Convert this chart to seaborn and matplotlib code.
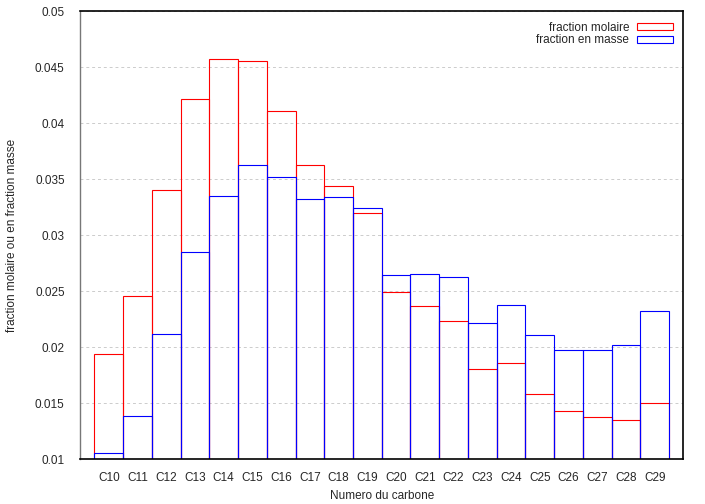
import matplotlib
matplotlib.use("Agg")
import matplotlib.pyplot as plt
import seaborn as sns
import pandas as pd

# carbon numbers and fractions
carbons = ['C10', 'C11', 'C12', 'C13', 'C14', 'C15', 'C16', 'C17', 'C18', 'C19',
           'C20', 'C21', 'C22', 'C23', 'C24', 'C25', 'C26', 'C27', 'C28', 'C29']
frac_molaire = [0.0194, 0.0246, 0.0340, 0.0422, 0.0457, 0.0456, 0.0411, 0.0363, 0.0344, 0.0320,
                0.0249, 0.0237, 0.02235, 0.0181, 0.0186, 0.0158, 0.0143, 0.01375, 0.0135, 0.0150]
frac_masse = [0.0106, 0.0139, 0.0212, 0.0285, 0.0335, 0.0363, 0.0352, 0.0332, 0.0334, 0.0324,
              0.02645, 0.0265, 0.0263, 0.0222, 0.02375, 0.0211, 0.0198, 0.0198, 0.0202, 0.02325]

df = pd.DataFrame({'carbone': carbons, 'molaire': frac_molaire, 'masse': frac_masse})

sns.set_style("white")
plt.rcParams['font.family'] = ['Liberation Sans', 'DejaVu Sans']
fs = 8.5

fig = plt.figure(figsize=(7.05, 5.04), dpi=100)
ax = fig.add_axes([0.1135, 0.0887, 0.856, 0.889])

sns.barplot(data=df, x='carbone', y='molaire', fill=False, color='#ff0000', width=1.0,
            linewidth=0.8, label='fraction molaire', ax=ax)
sns.barplot(data=df, x='carbone', y='masse', fill=False, color='#0000ff', width=1.0,
            linewidth=0.8, label='fraction en masse', ax=ax)

ax.set_xlim(-1, 20)
ax.set_ylim(0.01, 0.05)
ax.set_yticks([0.01, 0.015, 0.02, 0.025, 0.03, 0.035, 0.04, 0.045, 0.05])
ax.set_yticklabels(['0.01', '0.015', '0.02', '0.025', '0.03', '0.035', '0.04', '0.045', '0.05'])
ax.yaxis.grid(True, linestyle=(0, (3, 3)), color='#cccccc', linewidth=0.7)
ax.set_axisbelow(True)

ax.tick_params(axis='x', direction='out', length=3.5, width=0.8, color='#555555',
               labelsize=fs, pad=6)
ax.tick_params(axis='y', direction='out', length=4, width=0.8, color='#555555',
               labelsize=fs, pad=7)
ax.set_xlabel('Numero du carbone', fontsize=fs, labelpad=4)
ax.set_ylabel('fraction molaire ou en fraction masse', fontsize=fs, labelpad=12)

for side in ['top', 'right', 'bottom']:
    ax.spines[side].set_color('black')
    ax.spines[side].set_linewidth(1.2)
ax.spines['left'].set_color('#777777')
ax.spines['left'].set_linewidth(1.0)

ax.legend(loc='upper right', frameon=False, markerfirst=False, fontsize=fs,
          handlelength=3.0, handleheight=0.5, labelspacing=0.05, borderaxespad=0.6,
          borderpad=0.3, handletextpad=0.7)

fig.savefig('out.png', dpi=100)
